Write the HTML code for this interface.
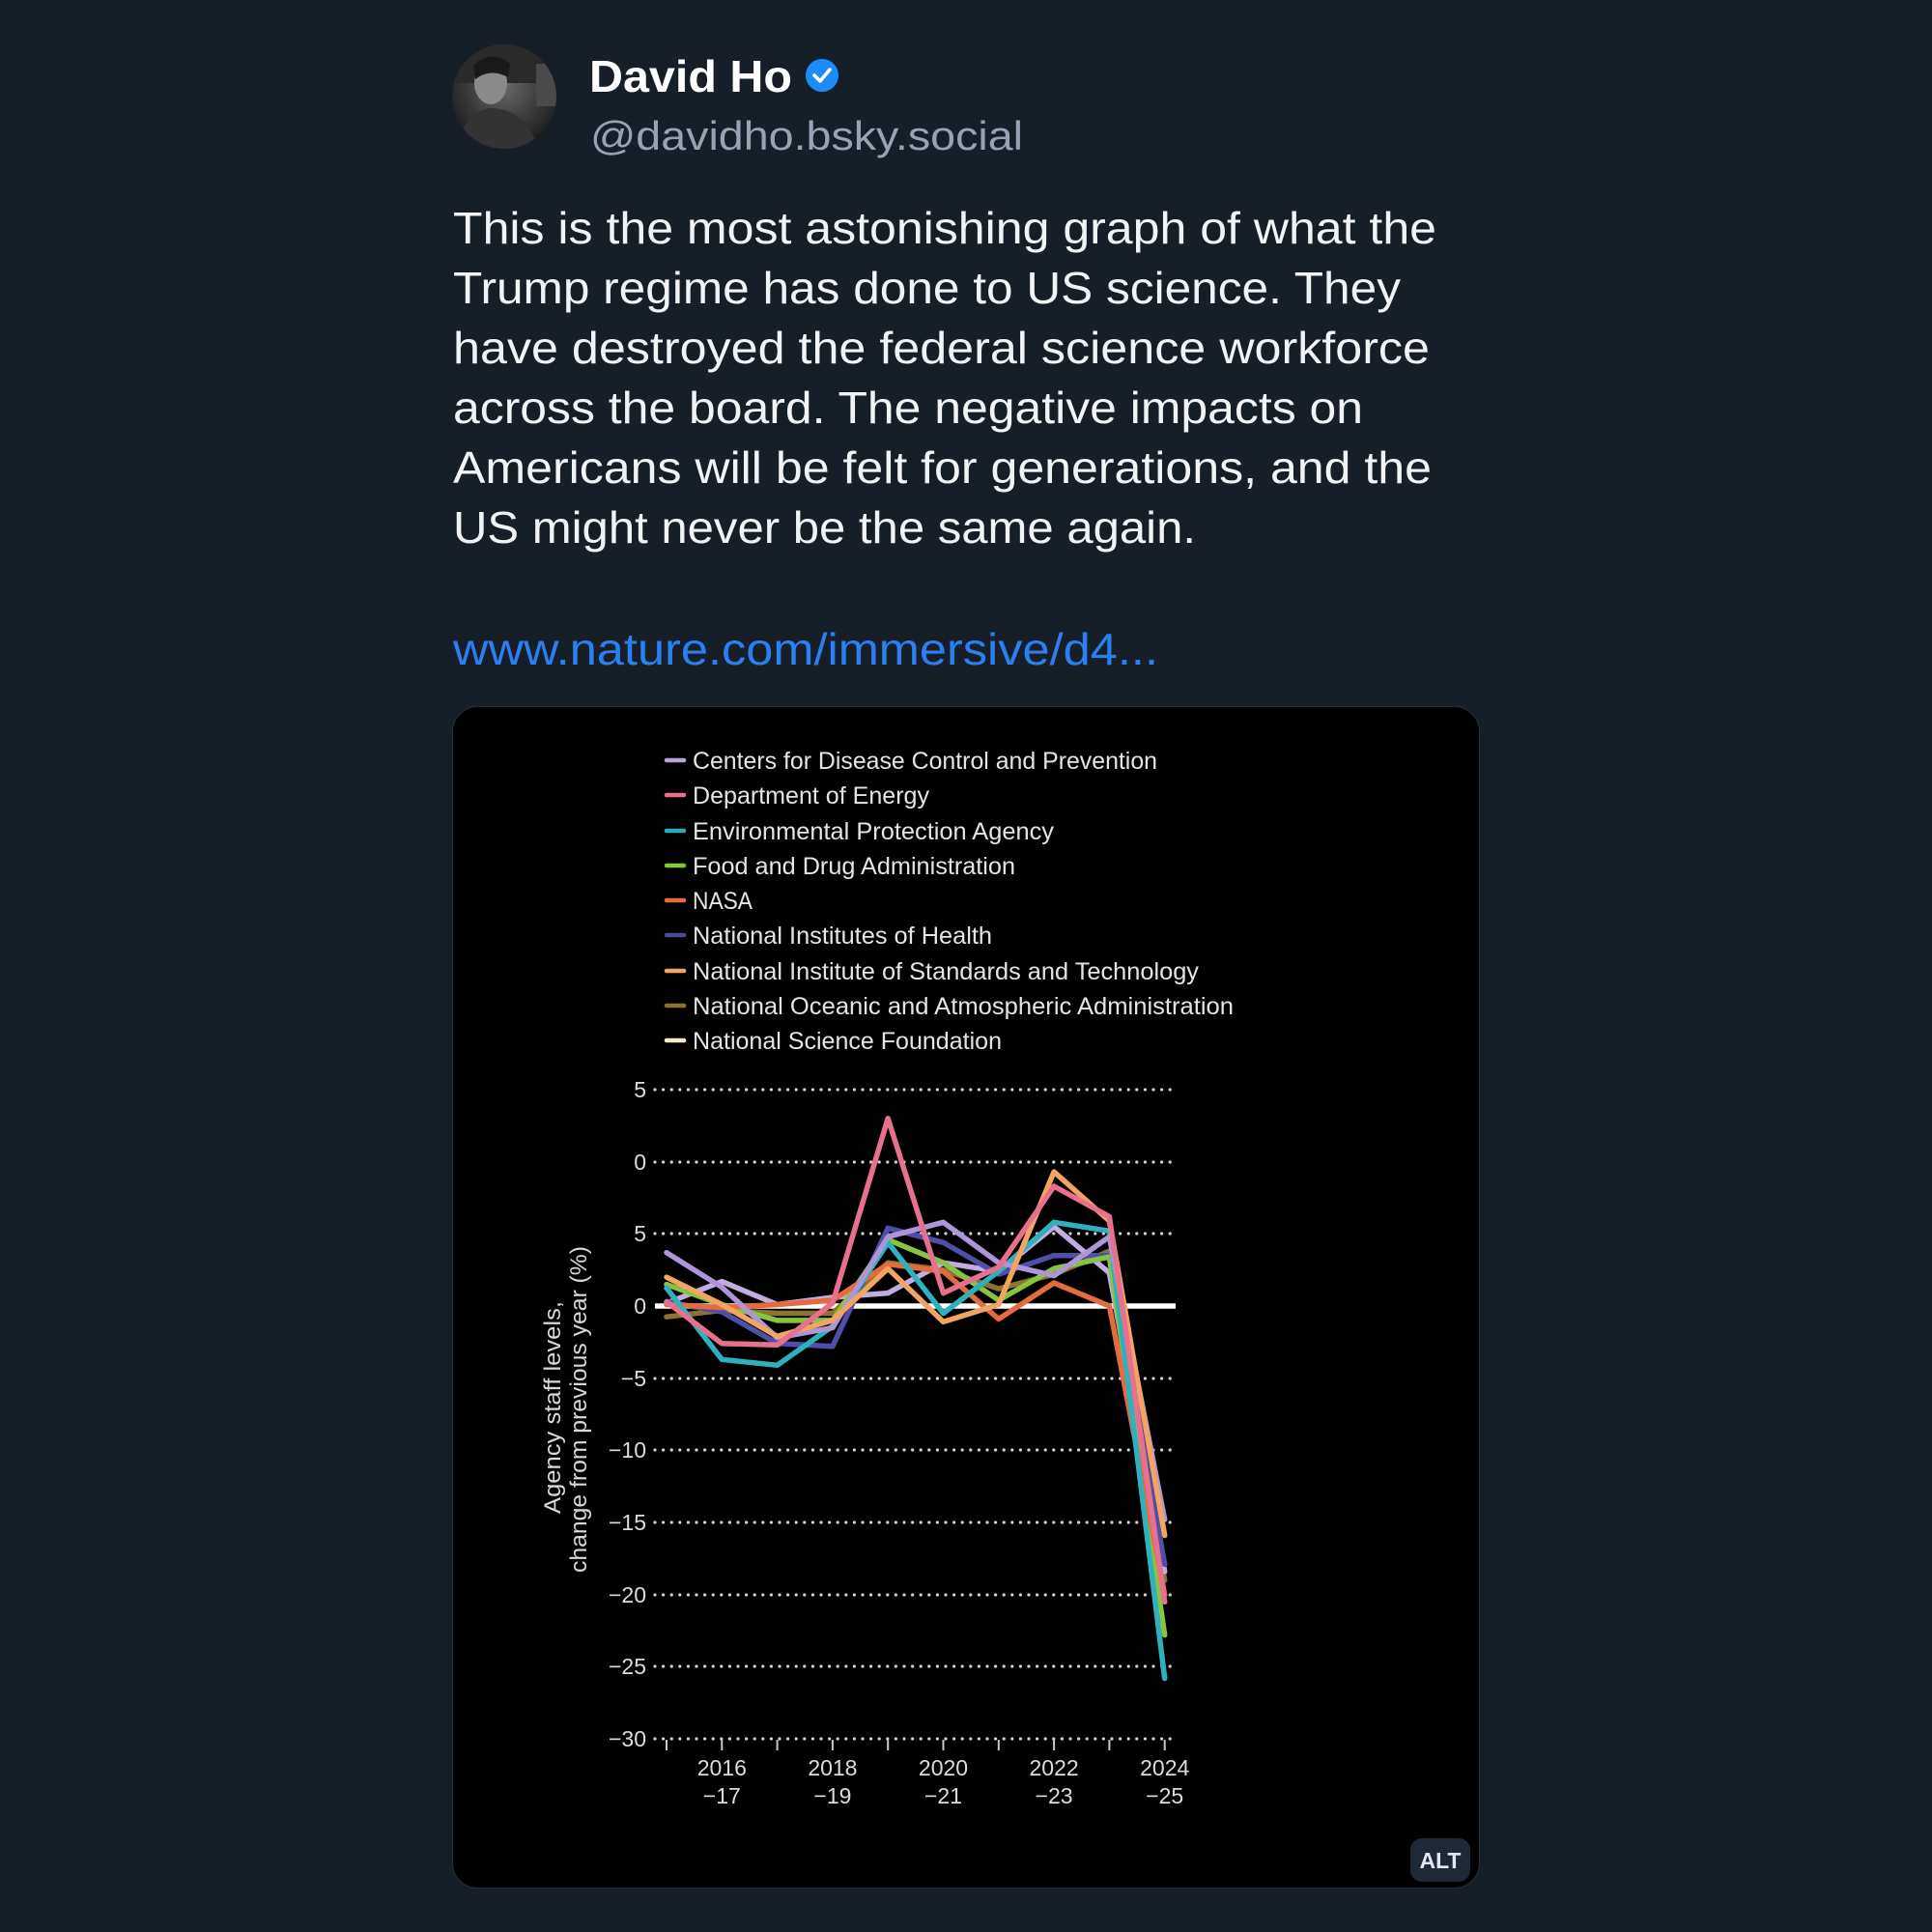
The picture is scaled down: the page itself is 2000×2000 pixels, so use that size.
<!DOCTYPE html>
<html>
<head>
<meta charset="utf-8">
<style>
html,body{margin:0;padding:0;background:#161e27;}
svg{display:block;}
</style>
</head>
<body>
<svg width="2000" height="2000" viewBox="0 0 2000 2000" xmlns="http://www.w3.org/2000/svg">
  <defs>
    <radialGradient id="av" cx="50%" cy="40%" r="60%">
      <stop offset="0%" stop-color="#6a6a6a"/>
      <stop offset="60%" stop-color="#3a3a3a"/>
      <stop offset="100%" stop-color="#1c1c1c"/>
    </radialGradient>
    <clipPath id="avc"><circle cx="522" cy="100" r="54"/></clipPath>
  </defs>
  <rect x="0" y="0" width="2000" height="2000" fill="#161e27"/>

  <!-- Avatar -->
  <circle cx="522" cy="100" r="54" fill="url(#av)"/>
  <g clip-path="url(#avc)">
    <rect x="468" y="46" width="108" height="40" fill="#2a2a2a"/>
    <rect x="555" y="66" width="24" height="44" fill="#4a4a4a"/>
    <ellipse cx="508" cy="86" rx="17" ry="22" fill="#8a8a8a"/>
    <path d="M490 68 Q508 50 528 66 L526 80 Q508 70 492 82 Z" fill="#1a1a1a"/>
    <path d="M470 160 Q480 115 508 112 Q545 112 560 160 Z" fill="#333"/>
  </g>

  <!-- Name and handle -->
  <text x="610" y="95" font-family="Liberation Sans, sans-serif" font-weight="bold" font-size="46" fill="#ffffff" textLength="210" lengthAdjust="spacingAndGlyphs">David Ho</text>
  <circle cx="851" cy="78" r="17" fill="#1d8cf8"/>
  <path d="M843 78 L849 84 L859 72" stroke="#ffffff" stroke-width="3.6" fill="none" stroke-linecap="round" stroke-linejoin="round"/>
  <text x="611" y="155" font-family="Liberation Sans, sans-serif" font-size="42" fill="#95a3b5" textLength="448" lengthAdjust="spacingAndGlyphs">@davidho.bsky.social</text>

  <!-- Body text -->
  <g font-family="Liberation Sans, sans-serif" font-size="46" fill="#f1f3f5">
    <text x="469" y="252" textLength="1018" lengthAdjust="spacingAndGlyphs">This is the most astonishing graph of what the</text>
    <text x="469" y="314" textLength="981" lengthAdjust="spacingAndGlyphs">Trump regime has done to US science. They</text>
    <text x="469" y="376" textLength="1011" lengthAdjust="spacingAndGlyphs">have destroyed the federal science workforce</text>
    <text x="469" y="438" textLength="942" lengthAdjust="spacingAndGlyphs">across the board. The negative impacts on</text>
    <text x="469" y="500" textLength="1013" lengthAdjust="spacingAndGlyphs">Americans will be felt for generations, and the</text>
    <text x="469" y="562" textLength="769" lengthAdjust="spacingAndGlyphs">US might never be the same again.</text>
  </g>
  <text x="469" y="688" font-family="Liberation Sans, sans-serif" font-size="46" fill="#2a80f2" textLength="730" lengthAdjust="spacingAndGlyphs">www.nature.com/immersive/d4...</text>

  <!-- Card -->
  <rect x="468.5" y="731.5" width="1063" height="1223" rx="26" ry="26" fill="#000000" stroke="#262e3a" stroke-width="1"/>

  <!-- Legend -->
  <g stroke-width="4.5" stroke-linecap="round">
    <line x1="690" y1="787" x2="708" y2="787" stroke="#b6a3d9"/>
    <line x1="690" y1="823" x2="708" y2="823" stroke="#e8708f"/>
    <line x1="690" y1="860" x2="708" y2="860" stroke="#2fa9b5"/>
    <line x1="690" y1="896" x2="708" y2="896" stroke="#86c540"/>
    <line x1="690" y1="932" x2="708" y2="932" stroke="#e66a3f"/>
    <line x1="690" y1="968" x2="708" y2="968" stroke="#4a4d8f"/>
    <line x1="690" y1="1005" x2="708" y2="1005" stroke="#f4a462"/>
    <line x1="690" y1="1041" x2="708" y2="1041" stroke="#8d7330"/>
    <line x1="690" y1="1077" x2="708" y2="1077" stroke="#f6e8c8"/>
  </g>
  <g font-family="Liberation Sans, sans-serif" font-size="25" fill="#e4e4e4">
    <text x="717" y="796" textLength="481" lengthAdjust="spacingAndGlyphs">Centers for Disease Control and Prevention</text>
    <text x="717" y="832" textLength="245" lengthAdjust="spacingAndGlyphs">Department of Energy</text>
    <text x="717" y="869" textLength="374" lengthAdjust="spacingAndGlyphs">Environmental Protection Agency</text>
    <text x="717" y="905" textLength="334" lengthAdjust="spacingAndGlyphs">Food and Drug Administration</text>
    <text x="717" y="941" textLength="62" lengthAdjust="spacingAndGlyphs">NASA</text>
    <text x="717" y="977" textLength="310" lengthAdjust="spacingAndGlyphs">National Institutes of Health</text>
    <text x="717" y="1014" textLength="524" lengthAdjust="spacingAndGlyphs">National Institute of Standards and Technology</text>
    <text x="717" y="1050" textLength="560" lengthAdjust="spacingAndGlyphs">National Oceanic and Atmospheric Administration</text>
    <text x="717" y="1086" textLength="320" lengthAdjust="spacingAndGlyphs">National Science Foundation</text>
  </g>

  <!-- Gridlines -->
  <g stroke="#d4d4d4" stroke-width="3.2" stroke-linecap="round" stroke-dasharray="0 8.6">
    <line x1="678" y1="1128" x2="1213" y2="1128"/>
    <line x1="678" y1="1203" x2="1213" y2="1203"/>
    <line x1="678" y1="1277" x2="1213" y2="1277"/>
    <line x1="678" y1="1427" x2="1213" y2="1427"/>
    <line x1="678" y1="1501" x2="1213" y2="1501"/>
    <line x1="678" y1="1576" x2="1213" y2="1576"/>
    <line x1="678" y1="1651" x2="1213" y2="1651"/>
    <line x1="678" y1="1725" x2="1213" y2="1725"/>
    <line x1="678" y1="1800" x2="1213" y2="1800"/>
  </g>
  <!-- x ticks -->
  <g stroke="#c8c8c8" stroke-width="2">
    <line x1="690" y1="1801" x2="690" y2="1812"/>
    <line x1="747.3" y1="1801" x2="747.3" y2="1812"/>
    <line x1="804.6" y1="1801" x2="804.6" y2="1812"/>
    <line x1="861.9" y1="1801" x2="861.9" y2="1812"/>
    <line x1="919.2" y1="1801" x2="919.2" y2="1812"/>
    <line x1="976.5" y1="1801" x2="976.5" y2="1812"/>
    <line x1="1033.8" y1="1801" x2="1033.8" y2="1812"/>
    <line x1="1091.1" y1="1801" x2="1091.1" y2="1812"/>
    <line x1="1148.4" y1="1801" x2="1148.4" y2="1812"/>
    <line x1="1205.7" y1="1801" x2="1205.7" y2="1812"/>
  </g>
  <!-- zero line -->
  <line x1="678" y1="1352" x2="1217" y2="1352" stroke="#ffffff" stroke-width="5.5"/>

  <!-- Y labels -->
  <g font-family="Liberation Sans, sans-serif" font-size="23" fill="#dcdcdc" text-anchor="end">
    <text x="669" y="1136">5</text>
    <text x="669" y="1211">0</text>
    <text x="669" y="1285">5</text>
    <text x="669" y="1360">0</text>
    <text x="669" y="1435">−5</text>
    <text x="669" y="1509">−10</text>
    <text x="669" y="1584">−15</text>
    <text x="669" y="1659">−20</text>
    <text x="669" y="1733">−25</text>
    <text x="669" y="1808">−30</text>
  </g>

  <!-- X labels -->
  <g font-family="Liberation Sans, sans-serif" font-size="23" fill="#dcdcdc" text-anchor="middle">
    <text x="747.3" y="1838">2016</text><text x="747.3" y="1867">−17</text>
    <text x="861.9" y="1838">2018</text><text x="861.9" y="1867">−19</text>
    <text x="976.5" y="1838">2020</text><text x="976.5" y="1867">−21</text>
    <text x="1091.1" y="1838">2022</text><text x="1091.1" y="1867">−23</text>
    <text x="1205.7" y="1838">2024</text><text x="1205.7" y="1867">−25</text>
  </g>

  <!-- Y axis title -->
  <g font-family="Liberation Sans, sans-serif" font-size="24" fill="#d8d8d8" text-anchor="middle">
    <text transform="translate(580,1457) rotate(-90)" textLength="220" lengthAdjust="spacingAndGlyphs">Agency staff levels,</text>
    <text transform="translate(607,1459) rotate(-90)" textLength="338" lengthAdjust="spacingAndGlyphs">change from previous year (%)</text>
  </g>

  <!-- Series -->
  <g fill="none" stroke-width="5.5" stroke-linejoin="round" stroke-linecap="round">
    <!-- NOAA -->
    <polyline stroke="#8d7330" points="690,1363.2 747.3,1356.5 804.6,1359.5 861.9,1359.5 919.2,1307.2 976.5,1314.6 1033.8,1334.1 1091.1,1319.1 1148.4,1295.2 1205.7,1635.9"/>
    <!-- NSF -->
    <polyline stroke="#c3ace2" points="690,1349 747.3,1326.6 804.6,1350.5 861.9,1343 919.2,1338.6 976.5,1307.2 1033.8,1316.1 1091.1,1269.8 1148.4,1317.6 1205.7,1626.9"/>
    <!-- NIH -->
    <polyline stroke="#4f4fa6" points="690,1347.5 747.3,1358 804.6,1390.8 861.9,1393.8 919.2,1271.3 976.5,1286.3 1033.8,1319.1 1091.1,1299.7 1148.4,1299.7 1205.7,1619.4"/>
    <!-- FDA -->
    <polyline stroke="#86c540" points="690,1329.6 747.3,1350.5 804.6,1366.9 861.9,1366.9 919.2,1283.3 976.5,1307.2 1033.8,1346 1091.1,1313.2 1148.4,1301.2 1205.7,1692.6"/>
    <!-- NASA -->
    <polyline stroke="#e66a3f" points="690,1350.5 747.3,1353.5 804.6,1350.5 861.9,1346 919.2,1308.7 976.5,1316.1 1033.8,1365.4 1091.1,1328.1 1148.4,1352 1205.7,1650.8"/>
    <!-- EPA -->
    <polyline stroke="#2fb0bc" points="690,1333.3 747.3,1407.3 804.6,1413.3 861.9,1372.9 919.2,1286.3 976.5,1359.5 1033.8,1316.1 1091.1,1265.3 1148.4,1274.3 1205.7,1737.5"/>
    <!-- CDC -->
    <polyline stroke="#ae95d8" points="690,1296.7 747.3,1332.6 804.6,1384.9 861.9,1374.4 919.2,1280.3 976.5,1265.3 1033.8,1307.2 1091.1,1320.6 1148.4,1280.3 1205.7,1573.1"/>
    <!-- NIST -->
    <polyline stroke="#f4a462" points="690,1322.1 747.3,1350.5 804.6,1383.4 861.9,1366.9 919.2,1313.2 976.5,1368.4 1033.8,1350.5 1091.1,1213.1 1148.4,1263.9 1205.7,1589.5"/>
    <!-- DOE -->
    <polyline stroke="#e8708f" points="690,1347.5 747.3,1390.8 804.6,1392.3 861.9,1349 919.2,1157.8 976.5,1338.6 1033.8,1311.7 1091.1,1228 1148.4,1259.4 1205.7,1658.3"/>
  </g>

  <!-- ALT badge -->
  <rect x="1460" y="1903" width="62" height="45" rx="12" ry="12" fill="#1f2836"/>
  <text x="1491" y="1934" font-family="Liberation Sans, sans-serif" font-weight="bold" font-size="23" fill="#e2e6ee" text-anchor="middle">ALT</text>
</svg>
</body>
</html>
